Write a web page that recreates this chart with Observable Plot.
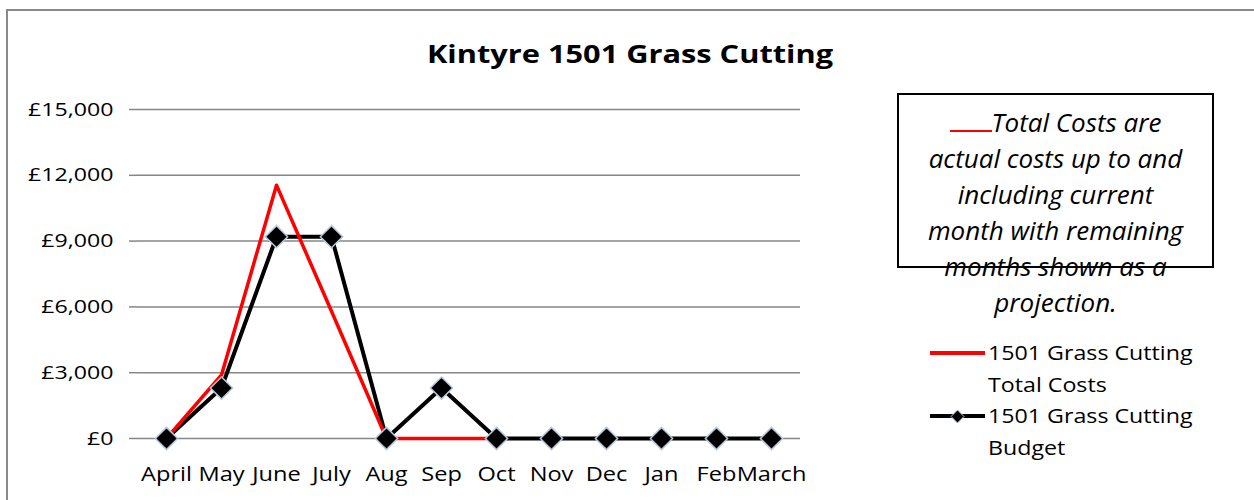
<!DOCTYPE html>
<html>
<head>
<meta charset="utf-8">
<script src="https://cdn.jsdelivr.net/npm/d3@7"></script>
<script src="https://cdn.jsdelivr.net/npm/@observablehq/plot@0.6"></script>
<style>
  html, body { margin: 0; padding: 0; background: #fff; }
  body { width: 1254px; height: 500px; position: relative; overflow: hidden; font-family: "Open Sans", sans-serif; }
  #frame { position: absolute; left: 6px; top: 9px; width: 1300px; height: 600px; border-left: 2px solid #8a8a8a; border-top: 2px solid #8a8a8a; }
  #title { position: absolute; left: 0; width: 1260px; top: 36px; text-align: center; font-weight: 700; font-size: 25px; line-height: 34px; color: #000; transform: scaleX(1.23); transform-origin: 630px 0; }
  #note { position: absolute; left: 897px; top: 93px; width: 313px; height: 171px; border: 2px solid #000; }
  #notetext { position: absolute; left: 880px; width: 351px; top: 104px; text-align: center; font-style: italic; font-size: 26px; line-height: 36px; color: #000; white-space: nowrap; }
  #notetext .red { display: inline-block; width: 42px; height: 22px; border-bottom: 2.5px solid #ff0000; vertical-align: baseline; }
  .leg { position: absolute; left: 988px; font-size: 20px; line-height: 31.5px; color: #000; transform: scaleX(1.16); transform-origin: 0 0; white-space: nowrap; }
  .sw { position: absolute; left: 930px; width: 55px; height: 4px; }
  #plotwrap { position: absolute; left: 0; top: 0; }
</style>
</head>
<body>
<div id="frame"></div>
<div id="plotwrap"></div>
<div id="title">Kintyre 1501 Grass Cutting</div>
<div id="note"></div>
<div id="notetext"><span class="red"></span>Total Costs are<br>actual costs up to and<br>including current<br>month with remaining<br>months shown as a<br>projection.</div>
<div class="sw" style="top:351px;background:#ff0000;"></div>
<div class="leg" style="top:337px;">1501 Grass Cutting<br>Total Costs</div>
<div class="sw" style="top:414px;background:#000;"></div>
<svg style="position:absolute;left:950px;top:409px;" width="15" height="15"><path d="M7.5 1 L14 7.5 L7.5 14 L1 7.5 Z" fill="#000" stroke="#b8c7dc" stroke-width="1"/></svg>
<div class="leg" style="top:400px;">1501 Grass Cutting<br>Budget</div>
<script>
const months = ["April","May","June","July","Aug","Sep","Oct","Nov","Dec","Jan","Feb","March"];
const totalCosts = [0, 2900, 11550, 5800, 0, 0, 0, null, null, null, null, null];
const budget = [0, 2300, 9200, 9200, 0, 2300, 0, 0, 0, 0, 0, 0];
const yTicks = [0, 3000, 6000, 9000, 12000, 15000];

const costData = months.map((m, i) => ({month: m, value: totalCosts[i]})).filter(d => d.value != null);
const budgetData = months.map((m, i) => ({month: m, value: budget[i]}));

const fmt = v => "£" + d3.format(",")(v);

const chart = Plot.plot({
  width: 1254,
  height: 500,
  marginLeft: 137,
  marginRight: 454,
  marginTop: 109,
  marginBottom: 62,
  style: {fontFamily: "'Open Sans', sans-serif", fontSize: "20px", color: "#000", background: "transparent"},
  x: {type: "point", domain: months, padding: 0.5, label: null},
  y: {domain: [0, 15000], label: null},
  marks: [
    Plot.ruleY(yTicks, {stroke: "#868686", strokeWidth: 1.5}),
    Plot.axisY({ticks: yTicks, tickFormat: fmt, tickSize: 8, tickPadding: 16, stroke: "#868686", strokeWidth: 1.5, fontSize: 19, label: null}),
    Plot.axisX({tickSize: 0, tickPadding: 28, fontSize: 20, label: null}),
    Plot.ruleX([0], {x: () => 137, y1: 0, y2: 15000, stroke: "#868686", strokeWidth: 1.5}),
    Plot.line(budgetData, {x: "month", y: "value", stroke: "#000", strokeWidth: 4}),
    Plot.line(costData, {x: "month", y: "value", stroke: "#ff0000", strokeWidth: 3.5}),
    Plot.dot(budgetData, {x: "month", y: "value", symbol: "diamond2", r: 10, fill: "#000", stroke: "#b8c7dc", strokeWidth: 1.5})
  ]
});
document.getElementById("plotwrap").appendChild(chart);

// Stretch axis text horizontally to match the reference's wide lettering
d3.select(chart).selectAll('g[aria-label="y-axis tick label"] text')
  .attr("transform", function() { return (this.getAttribute("transform") || "") + " scale(1.22,1)"; });
d3.select(chart).selectAll('g[aria-label="x-axis tick label"] text')
  .attr("transform", function() { return (this.getAttribute("transform") || "") + " scale(1.18,1)"; });
</script>
</body>
</html>
